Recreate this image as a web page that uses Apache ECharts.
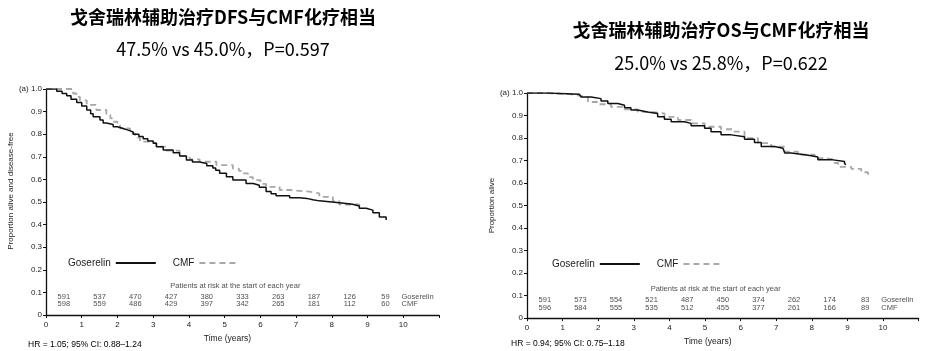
<!DOCTYPE html>
<html>
<head>
<meta charset="utf-8">
<script src="https://cdn.jsdelivr.net/npm/echarts@6/dist/echarts.min.js"></script>
<style>
  html, body { margin: 0; background: #fff; }
  #main { width: 925px; height: 351px; }
</style>
</head>
<body>
<div id="main"></div>
<script>
// 无病生存 DFS（左图）
const dfsGoserelin = [[0,1.0],[0.3,0.99],[0.45,0.98],[0.58,0.97],[0.7,0.955],[0.86,0.94],[1.0,0.925],[1.14,0.907],[1.25,0.89],[1.32,0.877],[1.51,0.863],[1.6,0.85],[1.69,0.843],[1.88,0.833],[2.0,0.825],[2.16,0.818],[2.3,0.81],[2.44,0.8],[2.6,0.79],[2.72,0.78],[2.85,0.77],[3.0,0.76],[3.09,0.745],[3.28,0.73],[3.56,0.718],[3.74,0.703],[3.93,0.686],[4.1,0.677],[4.3,0.67],[4.5,0.66],[4.67,0.65],[4.75,0.64],[4.86,0.627],[5.05,0.612],[5.23,0.597],[5.6,0.582],[5.8,0.574],[5.97,0.565],[6.16,0.546],[6.3,0.537],[6.44,0.528],[6.82,0.519],[7.09,0.516],[7.3,0.51],[7.47,0.505],[7.65,0.497],[8.21,0.49],[8.58,0.482],[8.77,0.472],[8.96,0.464],[9.15,0.452],[9.33,0.434],[9.52,0.42]];
const dfsCmf = [[0,1.0],[0.76,0.98],[0.85,0.965],[0.95,0.95],[1.14,0.93],[1.41,0.907],[1.69,0.885],[1.8,0.87],[1.88,0.855],[2.0,0.84],[2.07,0.826],[2.35,0.804],[2.5,0.785],[2.63,0.767],[2.9,0.76],[3.09,0.745],[3.37,0.727],[3.74,0.703],[4.02,0.689],[4.3,0.678],[4.77,0.663],[5.23,0.648],[5.4,0.638],[5.51,0.627],[5.65,0.61],[5.79,0.597],[6.0,0.58],[6.16,0.567],[6.54,0.553],[6.82,0.546],[7.37,0.538],[7.65,0.523],[8.03,0.504],[8.21,0.489],[8.77,0.482]];
// 总生存 OS（右图）
const osGoserelin = [[0,1.0],[0.58,0.995],[1.47,0.99],[1.52,0.982],[1.8,0.975],[2.08,0.965],[2.27,0.953],[2.55,0.946],[2.74,0.935],[2.92,0.924],[3.11,0.916],[3.39,0.909],[3.67,0.894],[3.86,0.883],[4.05,0.872],[4.42,0.865],[4.61,0.855],[4.99,0.843],[5.17,0.828],[5.45,0.814],[5.74,0.806],[6.11,0.795],[6.39,0.78],[6.58,0.762],[6.95,0.755],[7.19,0.748],[7.24,0.733],[7.42,0.726],[7.8,0.721],[7.99,0.716],[8.17,0.704],[8.55,0.696],[8.92,0.686],[8.96,0.682]];
const osCmf = [[0,1.0],[0.58,0.995],[1.2,0.99],[1.42,0.982],[1.71,0.96],[1.99,0.95],[2.36,0.938],[2.74,0.927],[3.11,0.916],[3.49,0.909],[3.86,0.894],[4.24,0.88],[4.61,0.865],[4.99,0.85],[5.45,0.839],[5.83,0.828],[6.11,0.799],[6.49,0.777],[6.86,0.762],[7.24,0.74],[7.61,0.726],[8.08,0.711],[8.36,0.704],[8.64,0.689],[8.74,0.672],[9.11,0.663],[9.39,0.648],[9.58,0.63]];

// 风险人数
const dfsRiskGoserelin = [591, 537, 470, 427, 380, 333, 263, 187, 126, 59];
const dfsRiskCmf = [598, 559, 486, 429, 397, 342, 265, 181, 112, 60];
const osRiskGoserelin = [591, 573, 554, 521, 487, 450, 374, 262, 174, 83];
const osRiskCmf = [596, 584, 555, 535, 512, 455, 377, 261, 166, 89];

const xTicks = [0, 1, 2, 3, 4, 5, 6, 7, 8, 9, 10];

const FONT = 'Liberation Sans, Arial, sans-serif';
const CJK = '"Noto Sans CJK SC", sans-serif';
const INK = '#222';

const myChart = echarts.init(document.getElementById('main'));

const xAxisOf = (idx) => ({
  gridIndex: idx, type: 'value', min: 0, max: 11, interval: 1,
  name: 'Time (years)', nameLocation: 'middle', nameGap: 17,
  nameTextStyle: { fontFamily: FONT, fontSize: 8.5, color: INK, padding: [0, 30, 0, 0] },
  axisLine: { lineStyle: { color: '#111', width: 1.3 } },
  axisTick: { length: 3, lineStyle: { color: '#111' } },
  axisLabel: {
    fontFamily: FONT, fontSize: 8, color: INK, margin: 6,
    formatter: v => xTicks.includes(v) ? String(v) : ''
  },
  splitLine: { show: false }
});

const yAxisOf = (idx, name, gap, pad) => ({
  gridIndex: idx, type: 'value', min: 0, max: 1, interval: 0.1,
  name: name, nameLocation: 'middle', nameGap: gap, nameRotate: 90,
  nameTextStyle: { fontFamily: FONT, fontSize: 8, color: INK, padding: pad },
  axisLine: { show: true, lineStyle: { color: '#111', width: 1.3 } },
  axisTick: { show: true, length: 3, lineStyle: { color: '#111' } },
  axisLabel: {
    fontFamily: FONT, fontSize: 8, color: INK, margin: 4,
    formatter: v => v === 0 ? '0' : (v === 1 ? '(a) 1.0' : v.toFixed(1))
  },
  splitLine: { show: false }
});

const kmLine = (idx, name, data, dashed) => ({
  name: name, type: 'line', step: 'end',
  xAxisIndex: idx, yAxisIndex: idx,
  data: data, symbol: 'none',
  lineStyle: dashed
    ? { color: '#a8a8a8', width: 1.8, type: [6, 4] }
    : { color: '#111', width: 1.5 },
  itemStyle: { color: dashed ? '#a8a8a8' : '#111' },
  z: dashed ? 2 : 3
});

// 风险表用散点的标签画出来
const textStyle = { fontFamily: FONT, fontSize: 7.5, color: INK };
const riskTable = (idx, gos, cmf) => {
  const pts = [];
  gos.forEach((n, i) => pts.push([i + 0.5, 0.08, String(n), 'center']));
  cmf.forEach((n, i) => pts.push([i + 0.5, 0.047, String(n), 'center']));
  pts.push([9.95, 0.08, 'Goserelin', 'left']);
  pts.push([9.95, 0.047, 'CMF', 'left']);
  pts.push([5.3, 0.128, 'Patients at risk at the start of each year', 'center']);
  return {
    type: 'scatter', xAxisIndex: idx, yAxisIndex: idx,
    symbolSize: 0, silent: true,
    data: pts.map(p => ({
      value: [p[0], p[1]],
      label: { show: true, position: 'inside', formatter: p[2], align: p[3], ...textStyle }
    }))
  };
};

const legendOf = (left, top) => ({
  left: left, top: top, align: 'right', orient: 'horizontal',
  itemWidth: 40, itemHeight: 10, itemGap: 16,
  data: ['Goserelin', 'CMF'],
  itemStyle: { opacity: 0 },
  textStyle: { fontFamily: FONT, fontSize: 10, color: INK },
  selectedMode: false
});

const gText = (x, y, text, font, align) => ({
  type: 'text', x: x, y: y, silent: true,
  style: { text: text, font: font, fill: '#000', textAlign: align || 'center', textVerticalAlign: 'middle' }
});

const option = {
  animation: false,
  grid: [
    { left: 46, top: 89, width: 393, height: 226 },
    { left: 527, top: 93, width: 391.6, height: 226 }
  ],
  xAxis: [xAxisOf(0), xAxisOf(1)],
  yAxis: [
    yAxisOf(0, 'Proportion alive and disease-free', 23, [0, 0, 0, 22]),
    yAxisOf(1, 'Proportion alive', 21, 0)
  ],
  legend: [legendOf(63, 253), legendOf(547, 254)],
  series: [
    kmLine(0, 'CMF', dfsCmf, true),
    kmLine(0, 'Goserelin', dfsGoserelin, false),
    kmLine(1, 'CMF', osCmf, true),
    kmLine(1, 'Goserelin', osGoserelin, false),
    riskTable(0, dfsRiskGoserelin, dfsRiskCmf),
    riskTable(1, osRiskGoserelin, osRiskCmf)
  ],
  graphic: [
    gText(223, 17, '戈舍瑞林辅助治疗DFS与CMF化疗相当', 'bold 18px ' + CJK),
    gText(223, 49, '47.5% vs 45.0%，P=0.597', '18px ' + CJK),
    gText(721, 30, '戈舍瑞林辅助治疗OS与CMF化疗相当', 'bold 18px ' + CJK),
    gText(721, 63, '25.0% vs 25.8%，P=0.622', '18px ' + CJK),
    gText(28, 345, 'HR = 1.05; 95% CI: 0.88\u20131.24', '8.5px ' + FONT, 'left'),
    gText(511, 344, 'HR = 0.94; 95% CI: 0.75\u20131.18', '8.5px ' + FONT, 'left')
  ]
};

myChart.setOption(option);
</script>
</body>
</html>
